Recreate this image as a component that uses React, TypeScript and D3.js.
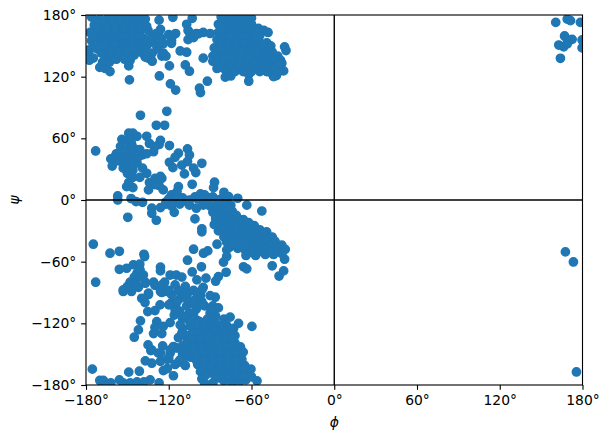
import React, { useEffect, useRef } from "react";
import * as d3 from "d3";

const xTicks = [-180, -120, -60, 0, 60, 120, 180];
const yTicks = [-180, -120, -60, 0, 60, 120, 180];

const betaLeft: [number, number][] = [
[-176,178],[-170,176],[-164,178],[-158,177],[-152,178],[-146,177],[-140,178],[-174,170],[-168,168],[-162,171],[-156,170],[-150,171],[-144,170],[-138,172],[-177,163],[-171,161],[-165,163],[-159,163],[-153,164],[-147,162],[-141,164],[-135,165],[-176,155],[-168,154],[-162,156],[-156,155],[-150,156],[-144,155],[-138,157],[-132,160],[-178,146],[-172,147],[-166,147],[-160,148],[-154,148],[-148,149],[-142,148],[-136,150],[-177.6,136],[-174.7,138],[-178,144],[-175,153.5],[-165,140],[-160,140],[-155,141],[-150,142],[-145,141],[-139,143],[-170,129],[-166,128],[-162.6,125],[-149,130.5],[-148,136],[-163,134],[-168,134],
[-173,174],[-167,173],[-161,175],[-155,174],[-149,174],[-143,174],[-137,176],[-171,166],[-165,167],[-159,167],[-153,167],[-147,166],[-141,168],[-174,158],[-165,158],[-159,159],[-153,160],[-147,159],[-141,160],[-172,152],[-165,151],[-159,152],[-153,152],[-147,152],[-141,152],[-135,155],[-169,143],[-163,144],[-157,144],[-151,145],[-145,145],[-139,148],[-158,137],[-152,137],
[-132,143],[-128,147],[-137,139],[-133,137],[-148.5,116.9],[-126.8,120.7],[-119.5,130.5],[-118.8,113],[-115,107],[-108,131.4],[-105,125.3],[-95,138],[-92,115.6],[-97.7,108.8],[-97,104.5],[-111.7,145],[-107,143.8],
[-117,177.8],[-127,175],[-126,166],[-127,160],[-130,152],[-125,140],[-122,140],[-124,152],[-118,155],[-115,162],[-120,161],[-117,160],[-125,156],[-128,156],
[-103,176.8],[-107,171],[-106,156],[-102,158],[-105,163],[-100,162],[-95,163],[-90,162],[-106,165],
[-136,169],[-132,157],[-129,162],[-126,154],[-138,144],[-142,146],[-135,138],[-132,135],[-124,143],[-118,152.5],[-98.5,161.6]
];

const betaRight: [number, number][] = [
[-82,178],[-76,177],[-70,178],[-64,178],[-60,177],[-84,171],[-78,171],[-72,171],[-66,170],[-60,171],[-55,167],[-51,165],[-48,163],[-84,163],[-78,164],[-72,164],[-66,164],[-60,163],[-54,160],[-85,156],[-79,156],[-73,157],[-67,157],[-61,156],[-55,155],[-49,153],[-46,150],[-87,148],[-81,149],[-75,149],[-69,149],[-63,149],[-57,149],[-51,147],[-45,144],[-88,140],[-82,142],[-76,142],[-70,141],[-64,142],[-58,142],[-52,141],[-46,138],[-41,140],[-39,136],[-88,135],[-84,135],[-78,134],[-72,134],[-66,134],[-60,135],[-54,133],[-48,131],[-43,131],[-38,133],[-85,128],[-80,128],[-74,128],[-68,129],[-62,128],[-56,129],[-50,127],[-46,124],[-42,121],[-62,122],[-62,115.6],[-79,119.5],[-75,120.7],[-36.7,125.6],[-39,125.6],[-35,145.4],[-36,149],
[-81,175],[-75,174],[-69,175],[-63,174],[-81,167],[-75,168],[-69,167],[-63,167],[-57,164],[-82,160],[-76,160],[-70,160],[-64,160],[-58,158],[-83,152],[-77,153],[-71,153],[-65,153],[-59,152],[-53,151],[-85,145],[-79,146],[-73,145],[-67,145],[-61,146],[-55,145],[-49,143],[-43,137],[-80,138],[-74,138],[-68,138],[-62,138],[-56,137],[-50,135],[-45,128],[-82,131],[-76,131],[-70,131],[-64,131],[-58,132],[-52,130],[-40,132],[-78,125],[-72,125],[-66,125],[-60,125],[-54,125],
[-44,120],[-49,125]
];

const alphaUpper: [number, number][] = [
[-173,47.7],[-140.5,82.4],[-121.4,86.3],[-129,72.7],[-123,72.7],[-119.5,53],[-106.4,49.7],[-105,43.8],[-113,45.5],[-115.4,41.6],[-119.5,36.7],[-117,31.5],[-106.4,37.4],[-110.5,34],[-96,35.7],[-108.6,25.4],[-102,31],[-100.4,26.7],[-103,15.3],[-86.8,17.3],[-87.5,12],[-113,13],[-80,7.5],[-76.6,3.3],[-70,1.7],[-157,4],[-157,0],[-147.3,1.4],[-143.7,-1.5],[-139,-2.2],[-150.5,13],[-146,12],[-134.7,9.8],[-124,9.8],[-127,14],
[-149,65],[-146,65],[-154,59],[-143,62],[-136,62],[-126,58],[-127,54],[-131,47],[-130,52],[-134,55],
[-160,41],[-162,40],[-161,33],[-158,45],[-155,52],[-150,50],[-145,50],[-141,49],[-139,44],[-152,44],[-147,44],[-142,42],[-136,45],[-153,37],[-148,37],[-143,36],[-153,31],[-150,26],[-146,29],[-139,31],[-141,22],[-146,22],[-149,17],[-136,26],[-134,17],[-130,21],[-125,21],[-126,23],[-130,15],
[-150,58],[-147,55],[-152,47],[-147,47],[-155,41],[-150,40],[-145,40],[-150,33],[-146,34],[-156,38],[-148,60],
[-118,5],[-114,8],[-120,1],[-113,1],[-110,2],[-101,3],[-97,6],[-94,5],[-91,2],[-88,3],[-82,1],[-105,0],[-116,-1],[-122,-2],[-99,1],[-95,1],[-85,0],[-78,-1],[-108,-1]
];

const alphaLower: [number, number][] = [
[-174.7,-43],[-162.6,-51.8],[-155.8,-49.9],[-173,-80],[-149.7,-16.8],[-138,-52.8],[-137.5,-55],[-155.8,-67.4],[-150.5,-66.4],[-145.6,-63],[-141,-62.5],[-126,-65.4],[-126,-69],[-106.4,-58.6],[-102,-47.9],[-94.8,-51.8],[-91.7,-49.5],[-80.3,-60.5],[-96.3,-65],[-78.4,-70.3],[-65.8,-65],[-63.4,-67],[-45,-64],[-40,-74],[-36.7,-69],[-36,-57.6],[-35.5,-48],[-52.5,-10.7],[-63.4,-5],[-101,-18.4],[-116,-12],[-129,-19.7],[-132.3,-13],[-132.3,-8],[-126,-7.4],[-96,-28],[-96,-31],[-85,-43],[-78,-48.5],[-78,-55],[-119,-73],[-114.6,-73],[-110.5,-75],[-103,-70],[-99.6,-77.7],[-93,-76],[-84,-74.5],[-86,-79],
[-105,-5],[-100,-8],[-95,-5],[-90,-6],[-85,-6],[-80,-4],[-75,-5],[-122,-4],[-118,-6],[-112,-4],
[-88,-12],[-84,-13],[-79,-12],[-74,-11],[-86,-18],[-81,-18],[-76,-18],[-71,-15],[-66,-19],[-87,-24],[-82,-24],[-77,-24],[-72,-23],[-67,-24],[-62,-22],[-58,-25],[-84,-30],[-79,-30],[-74,-29],[-69,-30],[-64,-30],[-59,-30],[-54,-29],[-49,-31],[-80,-36],[-75,-35],[-70,-36],[-65,-36],[-60,-36],[-55,-36],[-50,-35],[-45,-36],[-78,-41],[-73,-41],[-68,-42],[-63,-42],[-58,-42],[-53,-41],[-48,-41],[-43,-40],[-38,-44],[-41,-44],[-76,-46],[-70,-47],[-65,-48],[-60,-48],[-55,-47],[-50,-47],[-45,-49],[-40,-49],[-64,-54],[-57,-54],[-50,-53],[-44,-53],[-38,-52],
[-82,-9],[-76,-8],[-83,-21],[-78,-21],[-73,-20],[-68,-21],[-81,-27],[-76,-27],[-71,-26],[-66,-27],[-61,-26],[-77,-33],[-72,-33],[-67,-33],[-62,-33],[-57,-33],[-52,-33],[-75,-38],[-70,-39],[-65,-39],[-60,-39],[-55,-39],[-50,-38],[-46,-44],[-52,-45],[-58,-45],[-63,-45],[-68,-45],[-73,-44],[-60,-51],[-53,-50],[-47,-51],[-42,-47]
];

const lowerLeft: [number, number][] = [
[-175.4,-164.6],[-170,-175.6],[-167.4,-175.6],[-155.8,-175],[-149,-167.5],[-141.3,-166.6],[-133.5,-175],[-127,-178],[-162,-178],[-148,-178],[-143,-177],[-138,-177],[-153,-178],[-60.4,-164.6],[-56,-176],[-59.7,-123],[-69.4,-120],[-75.5,-114],[-86.3,-94.6],[-153,-89],[-147,-89],[-134.7,-92],[-139.6,-95.6],[-137.2,-99.8],[-135.2,-108.6],[-130,-107.6],[-126.3,-102],[-140.5,-117.6],[-142,-126.4],[-145,-133.5],[-135,-141],[-133,-146.5],[-137,-156.5],[-132.3,-158.8],[-128.7,-118.3],[-130,-124],[-131,-130],[-124,-123],[-125,-130],[-124.4,-142],[-126,-149],[-119,-149],[-121,-155],[-123.9,-166],[-116.6,-171],[-121,-164],[-108,-161],[-113,-158],[-119,-119.3],
[-144,-80],[-148,-80],[-142,-85],[-150,-84],[-145,-75],[-141,-72],[-137,-80],[-130,-83],[-125,-85],[-123,-80],[-120,-88],[-125,-90],[-118,-92],[-118,-100],[-112,-96],[-113,-88],[-106,-90],[-108,-84],[-102,-88],[-95,-85],[-97,-93],[-90,-93],[-101,-97],[-107,-103],[-112,-108],[-116,-112],[-105,-110],[-110,-115],[-100,-106],[-94,-103],[-88,-103],[-84,-105],[-90,-110],[-110,-125],[-113,-134],[-110,-142],[-115,-144],[-110,-150],[-112,-156],[-104,-100],[-96,-99],[-110,-93],[-115,-104],
[-132.3,-145.8],[-127.5,-149],[-119,-145.8],[-116.6,-142.6],[-113,-144],[-107,-152],[-111.7,-155.5],[-115.4,-160],[-120,-154],[-126,-157],[-107,-133],[-110.5,-129.6],[-111.7,-121.5],[-104.5,-123],[-109,-113.4],[-102,-110],[-100,-116.7],[-115.4,-107],[-120,-102],[-114,-99],[-107,-95.6],[-102,-100.5],[-95,-102],[-89,-107],
[-148,-84],[-153,-87.4],[-144.4,-81],[-140.8,-74.5],[-137,-81],[-131,-80],[-125,-82.6],[-115.4,-82.6],[-108,-90.7],[-96,-87.4],[-121.4,-89],[-126,-89],[-134.7,-90.7],[-143,-71.2],[-140.8,-68],[-138.4,-73]
];

const lowerRight: [number, number][] = [
[-105,-118],[-98,-118],[-92,-116],[-86,-113],[-80,-116],[-102,-125],[-96,-125],[-90,-123],[-84,-122],[-78,-122],[-73,-125],[-106,-132],[-100,-132],[-94,-131],[-88,-130],[-82,-130],[-76,-130],[-72,-132],[-107,-139],[-101,-139],[-95,-138],[-89,-138],[-83,-138],[-77,-138],[-72,-139],[-105,-146],[-99,-146],[-93,-145],[-87,-145],[-81,-145],[-75,-146],[-70,-146],[-68,-143],[-104,-153],[-98,-153],[-92,-153],[-86,-152],[-80,-153],[-74,-153],[-69,-152],[-66,-148],[-67,-155],[-99,-160],[-93,-160],[-87,-160],[-81,-160],[-75,-159],[-70,-160],[-65,-161],[-97,-167],[-91,-167],[-85,-166],[-79,-167],[-73,-166],[-68,-167],[-63,-168],[-96,-174],[-94,-178],[-84,-173],[-80,-176],[-74,-174],[-68,-176],[-64,-175],[-60,-172],[-88,-178],[-74,-179],
[-95,-121],[-87,-118],[-99,-128],[-93,-128],[-87,-127],[-81,-126],[-75,-126],[-103,-135],[-97,-135],[-91,-134],[-85,-134],[-79,-134],[-74,-135],[-102,-142],[-96,-142],[-90,-141],[-84,-141],[-78,-142],[-73,-142],[-101,-149],[-95,-149],[-89,-149],[-83,-149],[-77,-150],[-71,-149],[-100,-156],[-94,-156],[-88,-156],[-82,-156],[-76,-156],[-71,-156],[-95,-163],[-89,-163],[-83,-163],[-77,-163],[-71,-163],[-66,-165],[-93,-170],[-87,-170],[-81,-170],[-75,-170],[-70,-170],[-65,-171]
];

const rightEdge: [number, number][] = [
[160.6,172.8],[168.9,176],[171.3,174.5],[178.5,172.8],[167,159.6],[172.5,156.3],[169,156],[162.8,150.8],[166.4,149],[169,152],[164,137.9],[179.7,155.7],[179.7,148],[167.6,-50.5],[173.4,-60.3],[175.6,-167.3]
];

const points = [...betaLeft, ...betaRight, ...alphaUpper, ...alphaLower, ...lowerLeft, ...lowerRight, ...rightEdge];

const W = 609, H = 442;
const L = 86, R = 582.5, T = 15, B = 385;

export default function App() {
  const ref = useRef<SVGSVGElement>(null);
  useEffect(() => {
    const svg = d3.select(ref.current);
    svg.selectAll("*").remove();
    const x = d3.scaleLinear().domain([-180, 180]).range([L, R]);
    const y = d3.scaleLinear().domain([-180, 180]).range([B, T]);
    const font = "'DejaVu Sans', sans-serif";
    svg.append("defs").append("clipPath").attr("id", "c").append("rect")
      .attr("x", L).attr("y", T).attr("width", R - L).attr("height", B - T);
    const plot = svg.append("g").attr("clip-path", "url(#c)");
    plot.selectAll("circle").data(points).join("circle")
      .attr("cx", d => x(d[0])).attr("cy", d => y(d[1])).attr("r", 4.17)
      .attr("fill", "#1f77b4").attr("stroke", "#1f77b4").attr("stroke-width", 1.39);
    plot.append("line").attr("x1", L).attr("x2", R).attr("y1", y(0)).attr("y2", y(0)).attr("stroke", "#000").attr("stroke-width", 1.39);
    plot.append("line").attr("y1", T).attr("y2", B).attr("x1", x(0)).attr("x2", x(0)).attr("stroke", "#000").attr("stroke-width", 1.39);

    const fmt = (d: number) => `${d < 0 ? "\u2212" : ""}${Math.abs(d)}\u00b0`;
    const gx = svg.append("g").attr("transform", `translate(0,${B})`)
      .call(d3.axisBottom(x).tickValues(xTicks).tickFormat(fmt as any).tickSize(4.86).tickPadding(4.86));
    const gy = svg.append("g").attr("transform", `translate(${L},0)`)
      .call(d3.axisLeft(y).tickValues(yTicks).tickFormat(fmt as any).tickSize(4.86).tickPadding(4.86));
    for (const g of [gx, gy]) {
      g.select(".domain").remove();
      g.selectAll("line").attr("stroke", "#000").attr("stroke-width", 1.11);
      g.selectAll("text").attr("fill", "#000").attr("font-family", font).attr("font-size", 13.89);
    }
    svg.append("rect").attr("x", L).attr("y", T).attr("width", R - L).attr("height", B - T)
      .attr("fill", "none").attr("stroke", "#000").attr("stroke-width", 1.11);
    svg.append("text").attr("x", (L + R) / 2).attr("y", 427).attr("text-anchor", "middle")
      .attr("font-family", font).attr("font-style", "italic").attr("font-size", 13.89).text("\u03d5");
    svg.append("text").attr("transform", `translate(19,${(T + B) / 2}) rotate(-90)`).attr("text-anchor", "middle")
      .attr("font-family", font).attr("font-style", "italic").attr("font-size", 13.89).text("\u03c8");
  }, []);
  return <svg ref={ref} width={W} height={H} style={{ position: "absolute", left: 0, top: 0, background: "#fff" }} />;
}
